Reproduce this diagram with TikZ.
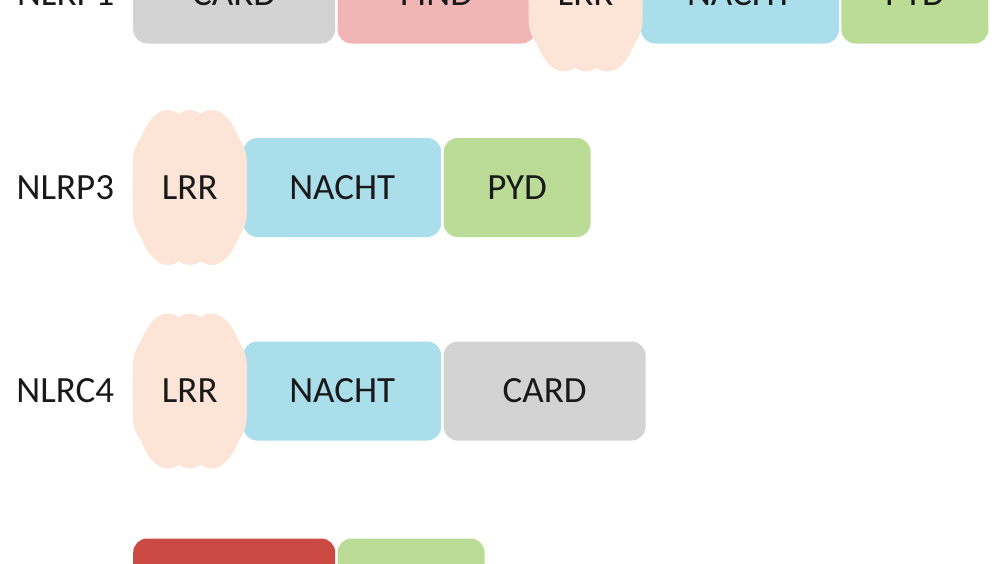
\documentclass[tikz,border=0pt]{standalone}
\usepackage{fontspec}
\setmainfont{Carlito}
\usetikzlibrary{positioning}
\definecolor{cardgray}{RGB}{211,211,211}
\definecolor{findpink}{RGB}{242,181,181}
\definecolor{lrrpeach}{RGB}{252,229,214}
\definecolor{nachtblue}{RGB}{169,222,234}
\definecolor{pydgreen}{RGB}{187,220,150}
\definecolor{hinred}{RGB}{204,74,68}

\begin{document}
\begin{tikzpicture}[x=1pt, y=1pt, node distance=2pt, font=\fontsize{37}{44}\selectfont, text=black!90]
\tikzset{dom/.style={rounded corners=14pt, minimum height=99pt, inner sep=0pt},
  card/.style={dom, fill=cardgray, minimum width=202pt},
  find/.style={dom, fill=findpink, minimum width=198pt},
  nacht/.style={dom, fill=nachtblue, minimum width=198pt},
  pyd/.style={dom, fill=pydgreen, minimum width=147pt},
  hin/.style={dom, fill=hinred, minimum width=202pt},
  lrr/.style={minimum width=114pt, minimum height=155pt, inner sep=0pt,
    path picture={
      \fill[lrrpeach] ([xshift=-22pt]path picture bounding box.center) ellipse [x radius=35pt, y radius=77.5pt]
        (path picture bounding box.center) ellipse [x radius=35pt, y radius=77.5pt]
        ([xshift=22pt]path picture bounding box.center) ellipse [x radius=35pt, y radius=77.5pt];
      \fill[lrrpeach, rounded corners=38pt] ([shift={(-57pt,-64pt)}]path picture bounding box.center)
        rectangle ([shift={(57pt,64pt)}]path picture bounding box.center);}},
  protein/.style={}}
\useasboundingbox (0,0) rectangle (1000,-563);

% NLRP1
\node[card, anchor=west] (card1) at (133,6) {CARD};
\node[find, right=of card1] (find1) {FIND};
\node[nacht, right=105pt of find1] (nacht1) {NACHT};
\node[pyd, right=of nacht1] (pyd1) {PYD};
\node[lrr, left=-2pt of nacht1] (lrr1) {LRR};
\node[protein, left=15pt of card1] (nlrp1) {NLRP1};

% NLRP3
\node[nacht, anchor=west] (nacht2) at (243,-187.5) {NACHT};
\node[pyd, right=of nacht2] (pyd2) {PYD};
\node[lrr, left=-4pt of nacht2] (lrr2) {LRR};
\node[protein, left=15pt of lrr2] (nlrp3) {NLRP3};

% NLRC4
\node[nacht, anchor=west] (nacht3) at (243,-391) {NACHT};
\node[card, right=of nacht3] (card3) {CARD};
\node[lrr, left=-4pt of nacht3] (lrr3) {LRR};
\node[protein, left=15pt of lrr3] (nlrc4) {NLRC4};

% cut off at the bottom
\node[hin, anchor=west] (hin4) at (133,-588) {};
\node[pyd, right=of hin4] (pyd4) {};
\end{tikzpicture}
\end{document}
